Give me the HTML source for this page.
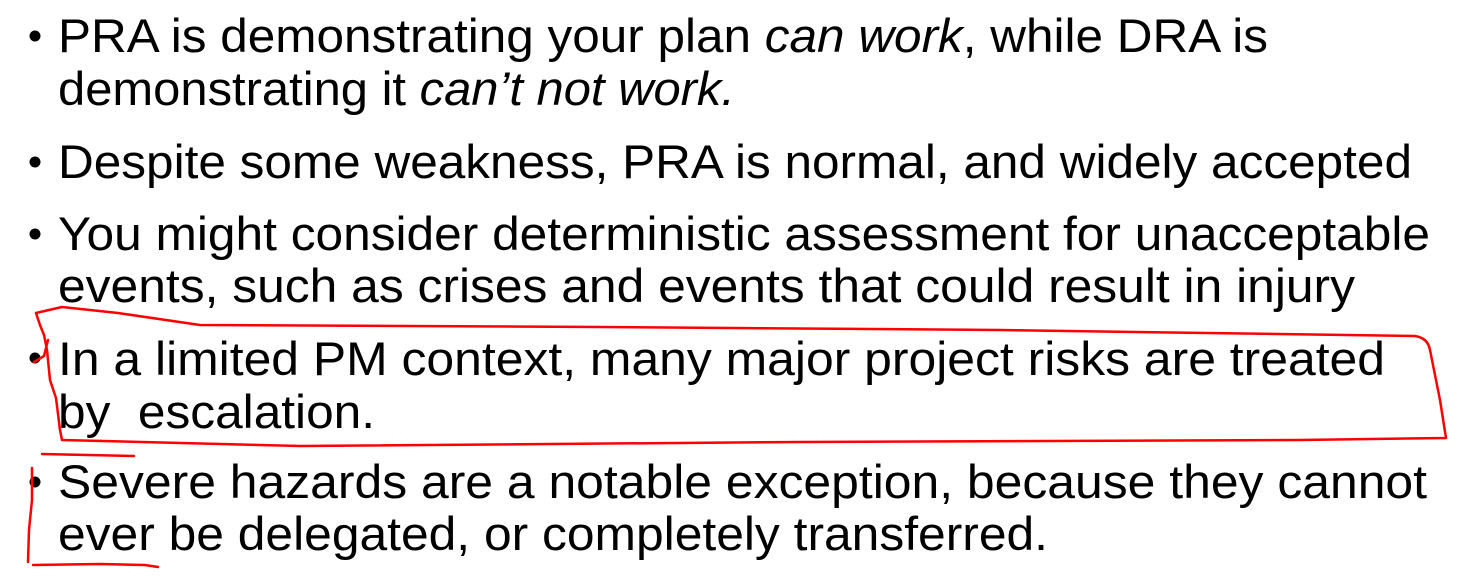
<!DOCTYPE html>
<html><head><meta charset="utf-8"><style>
html,body{margin:0;padding:0;background:#fff;}
svg{display:block}
text{font-family:"Liberation Sans",Arial,sans-serif;font-size:47px;fill:#000}
</style></head><body>
<svg width="1466" height="579" viewBox="0 0 1466 579" xmlns="http://www.w3.org/2000/svg">
<g>
<circle cx="35" cy="36" r="5.5"/>
<circle cx="35" cy="162" r="5.5"/>
<circle cx="35" cy="234" r="5.5"/>
<circle cx="35" cy="358" r="5.5"/>
<circle cx="35" cy="482" r="5.5"/>
</g>
<text x="58" y="52" textLength="1210" lengthAdjust="spacingAndGlyphs">PRA is demonstrating your plan <tspan font-style="italic">can work</tspan>, while DRA is</text>
<text x="58" y="105" textLength="677" lengthAdjust="spacingAndGlyphs">demonstrating it <tspan font-style="italic">can’t not work.</tspan></text>
<text x="58" y="178" textLength="1354" lengthAdjust="spacingAndGlyphs">Despite some weakness, PRA is normal, and widely accepted</text>
<text x="58" y="250" textLength="1372" lengthAdjust="spacingAndGlyphs">You might consider deterministic assessment for unacceptable</text>
<text x="58" y="302" textLength="1297" lengthAdjust="spacingAndGlyphs">events, such as crises and events that could result in injury</text>
<text x="58" y="375" textLength="1327" lengthAdjust="spacingAndGlyphs">In a limited PM context, many major project risks are treated</text>
<text x="58" y="428" textLength="317" lengthAdjust="spacingAndGlyphs" xml:space="preserve">by  escalation.</text>
<text x="58" y="498" textLength="1369" lengthAdjust="spacingAndGlyphs">Severe hazards are a notable exception, because they cannot</text>
<text x="58" y="550" textLength="990" lengthAdjust="spacingAndGlyphs">ever be delegated, or completely transferred.</text>
<g fill="none" stroke="#f00" stroke-width="2.5" stroke-linecap="round" stroke-linejoin="round">
<path d="M36 313 L62 307 L118 313 L200 325 L600 327 L1000 330 L1415 336 Q1428 338 1430 350 L1440 400 L1446 438 L1300 440 L800 442 L300 446 L62 440 L60 430 L56 398 L50 380 L47 350 L44 335 L40 325 L36 313"/>
<path d="M34 362 L44 356 L48 340"/>
<path d="M42 454 L134 456"/>
<path d="M32 468 L32 500 L29 530 L28 562"/>
<path d="M33 565 L100 564 L145 565 L158 567"/>
</g>
</svg>
</body></html>
